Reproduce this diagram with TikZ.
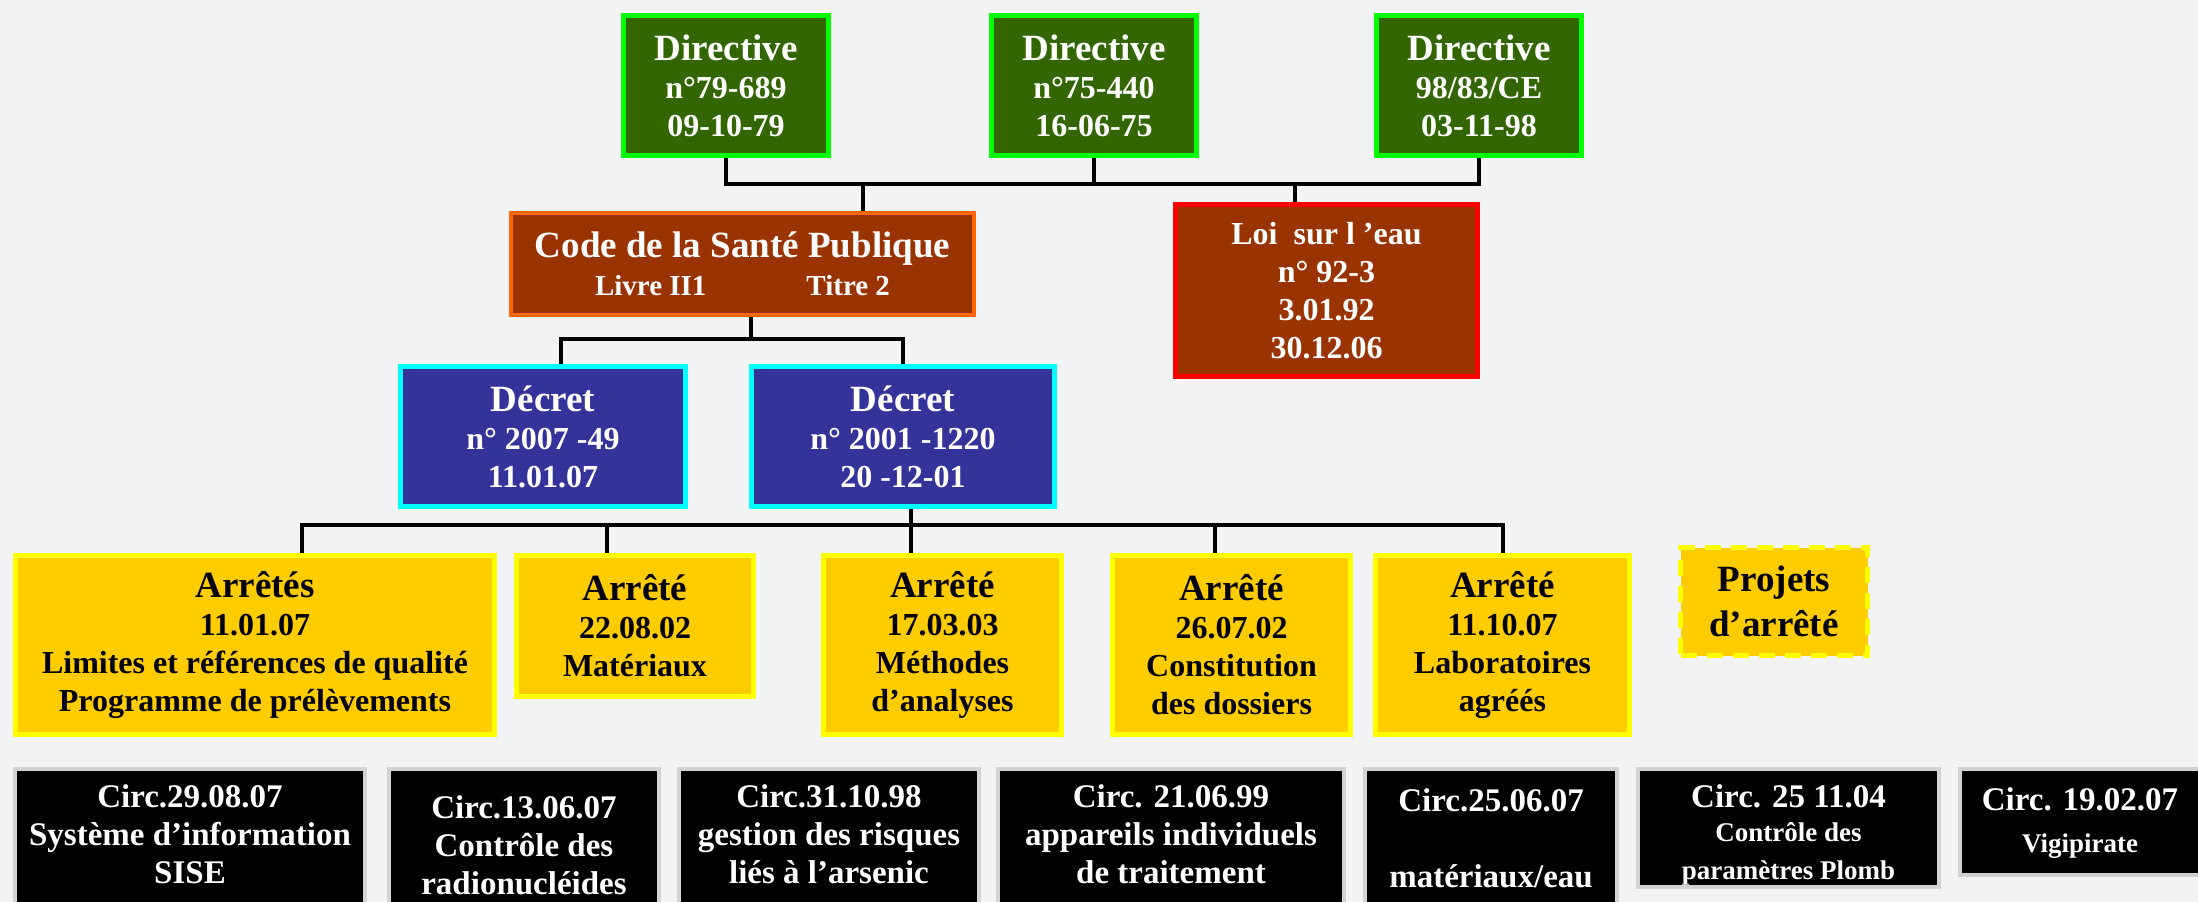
\documentclass[tikz,border=0pt]{standalone}
\usepackage{fontspec}
\setmainfont{Liberation Serif}
\definecolor{bgcol}{HTML}{F2F3F4}
\definecolor{dirfill}{HTML}{336600}
\definecolor{dirdraw}{HTML}{00FF00}
\definecolor{codefill}{HTML}{993300}
\definecolor{codedraw}{HTML}{FF6600}
\definecolor{loidraw}{HTML}{FF0000}
\definecolor{decfill}{HTML}{333399}
\definecolor{decdraw}{HTML}{00FFFF}
\definecolor{arrfill}{HTML}{FFCC00}
\definecolor{arrdraw}{HTML}{FFFF00}
\definecolor{circdraw}{HTML}{D2D2D2}
\newcommand\Tb{\fontsize{37}{40}\selectfont}
\newcommand\Ts{\fontsize{27}{36}\selectfont}
\begin{document}
\begin{tikzpicture}[x=1pt,y=-1pt,
  box/.style={rectangle, inner sep=0pt, align=center, font=\bfseries\fontsize{32}{38}\selectfont},
  dirbox/.style={box, fill=dirfill, draw=dirdraw, line width=5pt, text=white, minimum width=205pt, minimum height=140pt},
  codebox/.style={box, fill=codefill, draw=codedraw, line width=4pt, text=white, minimum width=463pt, minimum height=102pt},
  loibox/.style={box, fill=codefill, draw=loidraw, line width=5pt, text=white, minimum width=302pt, minimum height=172pt},
  decbox/.style={box, fill=decfill, draw=decdraw, line width=5pt, text=white, minimum height=140pt},
  arrbox/.style={box, fill=arrfill, draw=arrdraw, line width=5pt, text=black},
  circbox/.style={rectangle, inner sep=0pt, fill=black, draw=circdraw, line width=4pt},
  circtext/.style={inner sep=0pt, align=center, text=white, font=\bfseries\fontsize{33}{38}\selectfont},
  link/.style={line width=4pt, black, line join=miter}]
\useasboundingbox (0,0) rectangle (2198,902);
\clip (0,0) rectangle (2198,902);
\fill[bgcol] (0,0) rectangle (2198,902);

% Directives
\node[dirbox] (d1) at (726,85.5) {{\Tb Directive}\\n°79-689\\09-10-79};
\node[dirbox] (d2) at (1094,85.5) {{\Tb Directive}\\n°75-440\\16-06-75};
\node[dirbox] (d3) at (1479,85.5) {{\Tb Directive}\\98/83/CE\\03-11-98};

% Code / Loi
\node[codebox] (code) at (742.5,264) {{\Tb Code de la Santé Publique}\\{\fontsize{29}{36}\selectfont Livre II1\hspace*{100pt}Titre 2}};
\node[loibox] (loi) at (1326.5,290.5) {Loi\ \ sur l ’eau\\n° 92-3\\3.01.92\\30.12.06};

% Decrets
\node[decbox, minimum width=285pt] (dec1) at (543,436.5) {{\Tb Décret}\\n° 2007 -49\\11.01.07};
\node[decbox, minimum width=303pt] (dec2) at (903,436.5) {{\Tb Décret}\\n° 2001 -1220\\20 -12-01};

% Arretes
\node[arrbox, minimum width=479pt, minimum height=179pt] (a1) at (255,645) {{\Tb Arrêtés}\\11.01.07\\Limites et références de qualité\\Programme de prélèvements};
\node[arrbox, minimum width=237pt, minimum height=141pt] (a2) at (635,626) {{\Tb Arrêté}\\22.08.02\\Matériaux};
\node[arrbox, minimum width=238pt, minimum height=179pt] (a3) at (942.5,645) {{\Tb Arrêté}\\17.03.03\\Méthodes\\d’analyses};
\node[arrbox, minimum width=238pt, minimum height=179pt] (a4) at (1231.5,645) {{\Tb Arrêté}\\26.07.02\\Constitution\\des dossiers};
\node[arrbox, minimum width=254pt, minimum height=179pt] (a5) at (1502.5,645) {{\Tb Arrêté}\\11.10.07\\Laboratoires\\agréés};
\node[arrbox, dashed, dash pattern=on 16pt off 10pt, minimum width=187pt, minimum height=108pt, font=\bfseries\fontsize{37}{45}\selectfont] (proj) at (1774,601.5) {Projets\\d’arrêté};

% Circulaires
\node[circbox, minimum width=350pt, minimum height=145pt] (c1) at (190,841.5) {};
\node[circbox, minimum width=270pt, minimum height=145pt] (c2) at (524,841.5) {};
\node[circbox, minimum width=300pt, minimum height=145pt] (c3) at (829,841.5) {};
\node[circbox, minimum width=346pt, minimum height=145pt] (c4) at (1171,841.5) {};
\node[circbox, minimum width=252pt, minimum height=145pt] (c5) at (1491,841.5) {};
\node[circbox, minimum width=301pt, minimum height=118pt] (c6) at (1788.5,828) {};
\node[circbox, minimum width=250pt, minimum height=106pt] (c7) at (2085,822) {};

\node[circtext] (c1t) at (190,834.5) {Circ.29.08.07\\Système d’information\\SISE};
\node[circtext] (c2t) at (524,845.5) {Circ.13.06.07\\Contrôle des\\radionucléides};
\node[circtext] (c3t) at (829,834.5) {Circ.31.10.98\\gestion des risques\\liés à l’arsenic};
\node[circtext] (c4t) at (1171,834.5) {Circ. 21.06.99\\appareils individuels\\de traitement};
\node[circtext] (c5t) at (1491,838) {Circ.25.06.07\\ \\matériaux/eau};
\node[circtext] (c6t) at (1788.5,835) {Circ. 25 11.04\\[-4pt]{\Ts Contrôle des}\\{\Ts paramètres Plomb}};
\node[circtext] (c7t) at (2080,823) {Circ. 19.02.07\\[4pt]{\Ts Vigipirate}};

% Connectors
\coordinate (j1) at (1096,184);
\draw[link] (d1.south) -- (d1.south |- j1) -- (d3.south |- j1) -- (d3.south);
\draw[link] (d2.south) -- (d2.south |- j1);
\coordinate (jc) at (863,184);
\draw[link] (jc) -- (jc |- code.north);
\coordinate (jl) at (1295,184);
\draw[link] (jl) -- (jl |- loi.north);

\coordinate (k0) at (751,339);
\draw[link] (k0 |- code.south) -- (k0);
\coordinate (k1) at (561,339);
\draw[link] (k1 |- dec1.north) -- (k1) -- (dec2.north |- k1) -- (dec2.north);

\coordinate (m0) at (911,525);
\draw[link] (m0 |- dec2.south) -- (m0);
\coordinate (m1) at (302,525);
\coordinate (m2) at (607,525);
\coordinate (m4) at (1215,525);
\draw[link] (m1 |- a1.north) -- (m1) -- (a5.north |- m0) -- (a5.north);
\draw[link] (m2) -- (m2 |- a2.north);
\draw[link] (m0) -- (m0 |- a3.north);
\draw[link] (m4) -- (m4 |- a4.north);
\end{tikzpicture}
\end{document}
